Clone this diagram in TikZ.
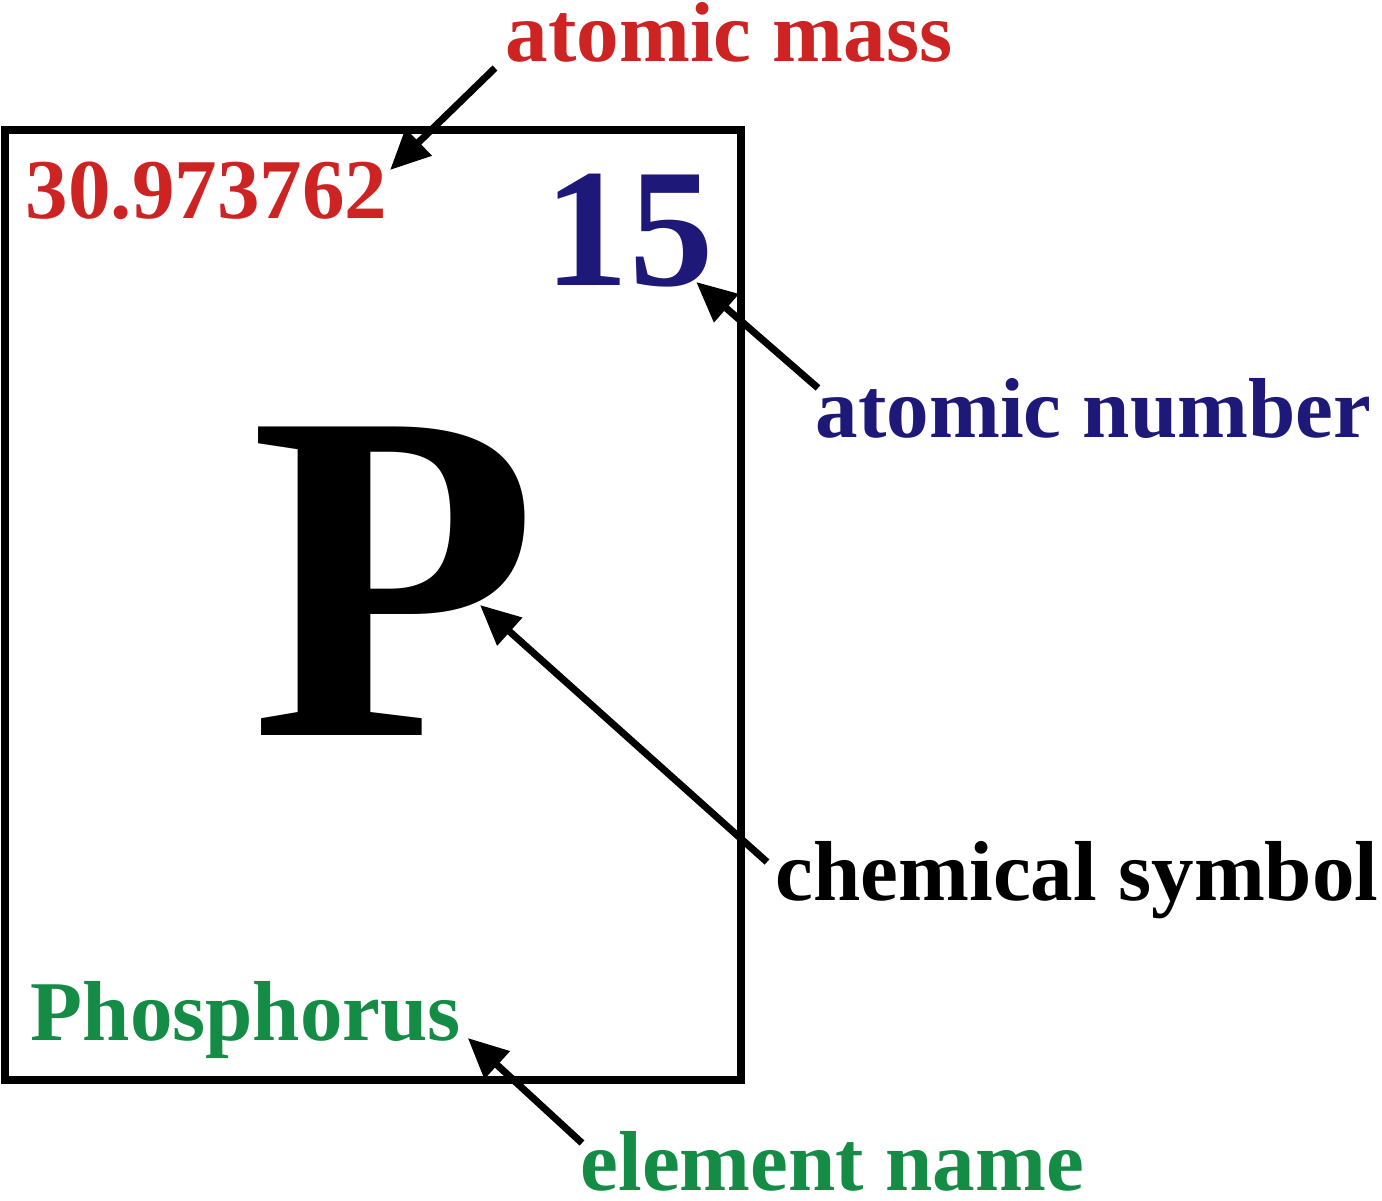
\documentclass[tikz,border=0pt]{standalone}
\usepackage{fontspec}
\setmainfont{Liberation Serif}
\usetikzlibrary{arrows.meta}
\definecolor{massred}{RGB}{205,35,35}
\definecolor{numblue}{RGB}{30,25,120}
\definecolor{namegreen}{RGB}{20,140,70}
\tikzset{
  lbl/.style={anchor=base west, inner sep=0pt, font=\bfseries\fontsize{24.2}{26}\selectfont},
  arr/.style={line width=2pt, -{Triangle[length=0.4cm,width=0.36cm]}},
  boxline/.style={line width=2.2pt}
}
\begin{document}
\begin{tikzpicture}[x=0.01cm,y=-0.01cm]
\useasboundingbox (0,0) rectangle (1382,1200);
\draw[boxline] (5,130) rectangle (741,1080);
\node[lbl, text=massred] (am) at (505,61) {atomic mass};
\node[lbl, text=massred] (mass) at (25,218) {30.973762};
\node[lbl, text=numblue, font=\bfseries\fontsize{48}{50}\selectfont] (num) at (544,285) {15};
\node[lbl, text=numblue] (an) at (815,437) {atomic number};
\node[lbl, text=black, font=\bfseries\fontsize{134}{140}\selectfont] (sym) at (250,735) {P};
\node[lbl, text=black] (cs) at (775,900) {chemical symbol};
\node[lbl, text=namegreen] (ph) at (30,1040) {Phosphorus};
\node[lbl, text=namegreen] (en) at (580,1190) {element name};
\draw[arr] ([shift={(-10,7)}]am.base west) -- ([shift={(2,-48)}]mass.base east);
\draw[arr] ([shift={(3,-49)}]an.base west) -- ([shift={(-18,-3)}]num.base east);
\draw[arr] ([shift={(-8,-38)}]cs.base west) -- ([shift={(230,-130)}]sym.base west);
\draw[arr] ([shift={(2,-47)}]en.base west) -- ([shift={(6,-2)}]ph.base east);
\end{tikzpicture}
\end{document}
